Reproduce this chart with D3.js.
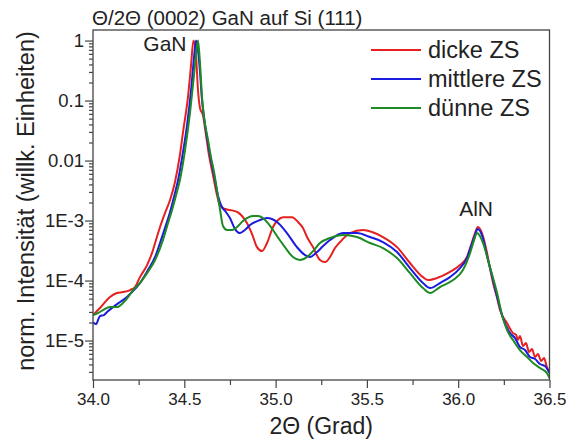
<!DOCTYPE html>
<html><head><meta charset="utf-8">
<script src="https://cdn.jsdelivr.net/npm/d3@7"></script>
<style>
body{margin:0;background:#fff}
svg{display:block}
text{font-family:"Liberation Sans",Arial,sans-serif;fill:#222}
</style>
</head><body>
<svg id="chart" width="566" height="439"></svg>
<script>
// Axis ticks
const xTicks = [34.0, 34.5, 35.0, 35.5, 36.0, 36.5];
const xMinorTicks = [34.25, 34.75, 35.25, 35.75, 36.25];
const yTicks = [1, 0.1, 0.01, 1e-3, 1e-4, 1e-5];
const yTickLabels = ["1", "0.1", "0.01", "1E-3", "1E-4", "1E-5"];

// Series: [2Θ in degrees, normalised intensity]
const seriesNames = ["dicke ZS", "mittlere ZS", "dünne ZS"];
const seriesColors = ["#e5201e", "#1c1ce0", "#1d8a24"];

const dicke = [[34.000,2.66e-5],[34.038,3.48e-5],[34.093,5.31e-5],[34.131,6.19e-5],[34.164,6.43e-5],[34.203,6.95e-5],[34.230,7.80e-5],[34.257,1.14e-4],[34.296,1.81e-4],[34.323,2.87e-4],[34.340,4.22e-4],[34.367,7.80e-4],[34.394,1.33e-3],[34.422,2.20e-3],[34.449,4.39e-3],[34.476,1.24e-2],[34.493,2.99e-2],[34.520,0.114],[34.537,0.391],[34.550,1],[34.564,0.573],[34.575,0.150],[34.586,7.50e-2],[34.602,5.73e-2],[34.619,2.66e-2],[34.635,1.24e-2],[34.657,5.73e-3],[34.679,2.66e-3],[34.696,1.75e-3],[34.723,1.56e-3],[34.750,1.50e-3],[34.789,1.39e-3],[34.816,1.19e-3],[34.843,9.08e-4],[34.871,5.96e-4],[34.898,3.61e-4],[34.926,3.10e-4],[34.953,4.22e-4],[34.986,7.80e-4],[35.013,1.02e-3],[35.041,1.14e-3],[35.090,1.14e-3],[35.123,9.44e-4],[35.150,7.50e-4],[35.172,5.31e-4],[35.205,3.61e-4],[35.243,2.20e-4],[35.271,2.03e-4],[35.298,2.47e-4],[35.325,3.48e-4],[35.353,4.39e-4],[35.407,6.19e-4],[35.479,6.95e-4],[35.528,6.43e-4],[35.588,5.31e-4],[35.665,3.61e-4],[35.736,1.96e-4],[35.807,1.14e-4],[35.835,1.02e-4],[35.884,1.10e-4],[35.955,1.39e-4],[36.010,1.81e-4],[36.048,2.47e-4],[36.076,4.39e-4],[36.092,6.19e-4],[36.108,7.80e-4],[36.130,6.19e-4],[36.158,2.87e-4],[36.174,1.61e-4],[36.191,9.08e-5],[36.213,5.11e-5],[36.229,3.22e-5],[36.267,1.96e-5],[36.300,1.33e-5],[36.317,1.24e-5],[36.327,1.02e-5],[36.338,1.19e-5],[36.355,8.09e-6],[36.371,9.08e-6],[36.388,6.43e-6],[36.404,7.21e-6],[36.421,5.31e-6],[36.437,5.96e-6],[36.454,4.55e-6],[36.470,5.11e-6],[36.486,3.61e-6],[36.500,2.99e-6]];

const mittlere = [[34.000,2.03e-5],[34.016,1.88e-5],[34.038,2.56e-5],[34.060,2.66e-5],[34.077,2.99e-5],[34.110,3.61e-5],[34.148,4.39e-5],[34.186,5.31e-5],[34.214,6.43e-5],[34.257,9.08e-5],[34.301,1.50e-4],[34.340,2.47e-4],[34.367,4.22e-4],[34.394,7.50e-4],[34.422,1.39e-3],[34.449,2.87e-3],[34.466,4.73e-3],[34.493,1.39e-2],[34.515,3.91e-2],[34.537,0.150],[34.553,0.511],[34.564,1],[34.575,0.695],[34.586,0.299],[34.597,0.102],[34.608,5.31e-2],[34.624,2.47e-2],[34.641,1.24e-2],[34.663,5.73e-3],[34.685,2.56e-3],[34.706,1.68e-3],[34.728,1.39e-3],[34.750,1.10e-3],[34.778,7.21e-4],[34.805,6.19e-4],[34.832,6.95e-4],[34.860,8.41e-4],[34.915,1.02e-3],[34.953,1.10e-3],[35.008,9.44e-4],[35.062,6.19e-4],[35.117,3.61e-4],[35.161,2.66e-4],[35.188,2.47e-4],[35.227,2.99e-4],[35.260,3.76e-4],[35.298,4.73e-4],[35.369,6.19e-4],[35.446,6.19e-4],[35.517,5.31e-4],[35.588,4.39e-4],[35.665,2.99e-4],[35.736,1.61e-4],[35.807,9.08e-5],[35.846,7.50e-5],[35.900,9.08e-5],[35.955,1.14e-4],[36.010,1.61e-4],[36.048,2.37e-4],[36.076,4.22e-4],[36.092,5.73e-4],[36.106,7.21e-4],[36.130,5.73e-4],[36.163,2.20e-4],[36.191,1.02e-4],[36.218,4.73e-5],[36.245,2.37e-5],[36.284,1.33e-5],[36.311,1.10e-5],[36.338,7.80e-6],[36.366,6.95e-6],[36.393,5.31e-6],[36.421,4.92e-6],[36.448,4.06e-6],[36.475,3.76e-6],[36.500,2.87e-6]];

const duenne = [[34.000,2.66e-5],[34.027,2.87e-5],[34.055,3.22e-5],[34.093,3.61e-5],[34.131,3.61e-5],[34.164,4.22e-5],[34.192,5.31e-5],[34.219,6.95e-5],[34.257,9.08e-5],[34.296,1.33e-4],[34.340,2.20e-4],[34.383,4.73e-4],[34.411,9.08e-4],[34.433,1.50e-3],[34.455,2.66e-3],[34.476,4.73e-3],[34.504,1.50e-2],[34.531,6.19e-2],[34.553,0.266],[34.564,0.573],[34.575,1],[34.586,0.422],[34.597,0.114],[34.608,5.31e-2],[34.630,2.20e-2],[34.646,1.14e-2],[34.663,6.43e-3],[34.679,3.22e-3],[34.696,1.50e-3],[34.712,8.09e-4],[34.734,6.95e-4],[34.761,6.95e-4],[34.789,7.80e-4],[34.821,9.81e-4],[34.843,1.10e-3],[34.876,1.19e-3],[34.904,1.19e-3],[34.931,1.10e-3],[34.958,9.08e-4],[34.986,6.95e-4],[35.019,4.92e-4],[35.051,3.61e-4],[35.095,2.47e-4],[35.134,2.20e-4],[35.172,2.47e-4],[35.210,3.22e-4],[35.243,4.22e-4],[35.298,5.11e-4],[35.369,5.73e-4],[35.446,5.31e-4],[35.517,4.22e-4],[35.588,3.48e-4],[35.665,2.37e-4],[35.736,1.33e-4],[35.807,7.50e-5],[35.846,6.19e-5],[35.900,7.80e-5],[35.972,1.02e-4],[36.026,1.50e-4],[36.065,2.87e-4],[36.087,4.73e-4],[36.103,6.19e-4],[36.119,5.52e-4],[36.136,4.22e-4],[36.174,1.68e-4],[36.213,6.19e-5],[36.240,2.66e-5],[36.267,1.50e-5],[36.300,1.02e-5],[36.338,6.95e-6],[36.377,5.31e-6],[36.410,4.22e-6],[36.448,3.48e-6],[36.486,2.87e-6],[36.500,2.37e-6]];

const allSeries = [dicke, mittlere, duenne];

// Peak annotations: [label, 2Θ, intensity at label baseline]
const peakLabels = [["GaN", 34.394, 0.66], ["AlN", 36.098, 1.2e-3]];

// Layout
const m = {left: 93, right: 549.5, top: 30, bottom: 380};
const fontFamily = "'Liberation Sans',Arial,sans-serif";

const svg = d3.select("#chart");

const x = d3.scaleLinear().domain([34.0, 36.5]).range([m.left, m.right]);
const y = d3.scaleLog().domain([2.2e-6, 1.5]).range([m.bottom, m.top]);

// minor log ticks 2..9 per decade
const yMinor = [];
for (let e = -6; e <= 0; e++) for (let k = 2; k <= 9; k++) {
  const v = k * Math.pow(10, e);
  if (v >= y.domain()[0] && v <= y.domain()[1]) yMinor.push(v);
}

const axisColor = "#444";

// clip for curves
svg.append("defs").append("clipPath").attr("id", "plotClip")
  .append("rect").attr("x", m.left).attr("y", m.top)
  .attr("width", m.right - m.left).attr("height", m.bottom - m.top);

// Curves
const line = d3.line()
  .x(d => x(d[0])).y(d => y(d[1]))
  .curve(d3.curveMonotoneX);

const gLines = svg.append("g").attr("clip-path", "url(#plotClip)");
allSeries.forEach((s, i) => {
  gLines.append("path").datum(s)
    .attr("d", line)
    .attr("fill", "none")
    .attr("stroke", seriesColors[i])
    .attr("stroke-width", 2)
    .attr("stroke-linejoin", "round");
});

// Frame
svg.append("rect")
  .attr("x", m.left).attr("y", m.top)
  .attr("width", m.right - m.left).attr("height", m.bottom - m.top)
  .attr("fill", "none").attr("stroke", axisColor).attr("stroke-width", 1.3);

function styleAxis(g) {
  g.select(".domain").remove();
  g.selectAll(".tick line").attr("stroke", axisColor).attr("stroke-width", 1.2);
  g.selectAll(".tick text").attr("fill", "#222").style("font-family", fontFamily);
}

// X axis
svg.append("g").attr("transform", `translate(0,${m.bottom})`)
  .call(d3.axisBottom(x).tickValues(xMinorTicks).tickSize(5).tickFormat(""))
  .call(styleAxis);
svg.append("g").attr("transform", `translate(0,${m.bottom})`)
  .call(d3.axisBottom(x).tickValues(xTicks).tickSize(8).tickPadding(5).tickFormat(d3.format(".1f")))
  .call(styleAxis)
  .call(g => g.selectAll(".tick text").style("font-size", "17px"));

// Y axis
svg.append("g").attr("transform", `translate(${m.left},0)`)
  .call(d3.axisLeft(y).tickValues(yMinor).tickSize(4).tickFormat(""))
  .call(styleAxis);
svg.append("g").attr("transform", `translate(${m.left},0)`)
  .call(d3.axisLeft(y).tickValues(yTicks).tickSize(8).tickPadding(1)
    .tickFormat((d, i) => yTickLabels[i]))
  .call(styleAxis)
  .call(g => g.selectAll(".tick text").style("font-size", "18.5px"));

// Title
svg.append("text").attr("x", 92).attr("y", 25)
  .style("font-size", "20.5px")
  .text("Θ/2Θ (0002) GaN auf Si (111)");

// Axis titles
svg.append("text").attr("x", (m.left + m.right) / 2).attr("y", 434)
  .attr("text-anchor", "middle").style("font-size", "23px")
  .text("2Θ (Grad)");
svg.append("text")
  .attr("transform", "translate(34,201) rotate(-90)")
  .attr("text-anchor", "middle").style("font-size", "23.5px")
  .text("norm. Intensität (willk. Einheiten)");

// Peak labels
peakLabels.forEach(p => {
  svg.append("text").attr("x", x(p[1])).attr("y", y(p[2]))
    .attr("text-anchor", "middle").style("font-size", "21px").text(p[0]);
});

// Legend
const legendY = [50, 79, 108];
seriesNames.forEach((name, i) => {
  const g = svg.append("g").attr("transform", `translate(371,${legendY[i]})`);
  g.append("line").attr("x1", 0).attr("x2", 50).attr("y1", 0).attr("y2", 0)
    .attr("stroke", seriesColors[i]).attr("stroke-width", 2);
  g.append("text").attr("x", 57).attr("y", 0).attr("dy", "0.35em")
    .style("font-size", "23.5px").text(name);
});
</script>
</body></html>
